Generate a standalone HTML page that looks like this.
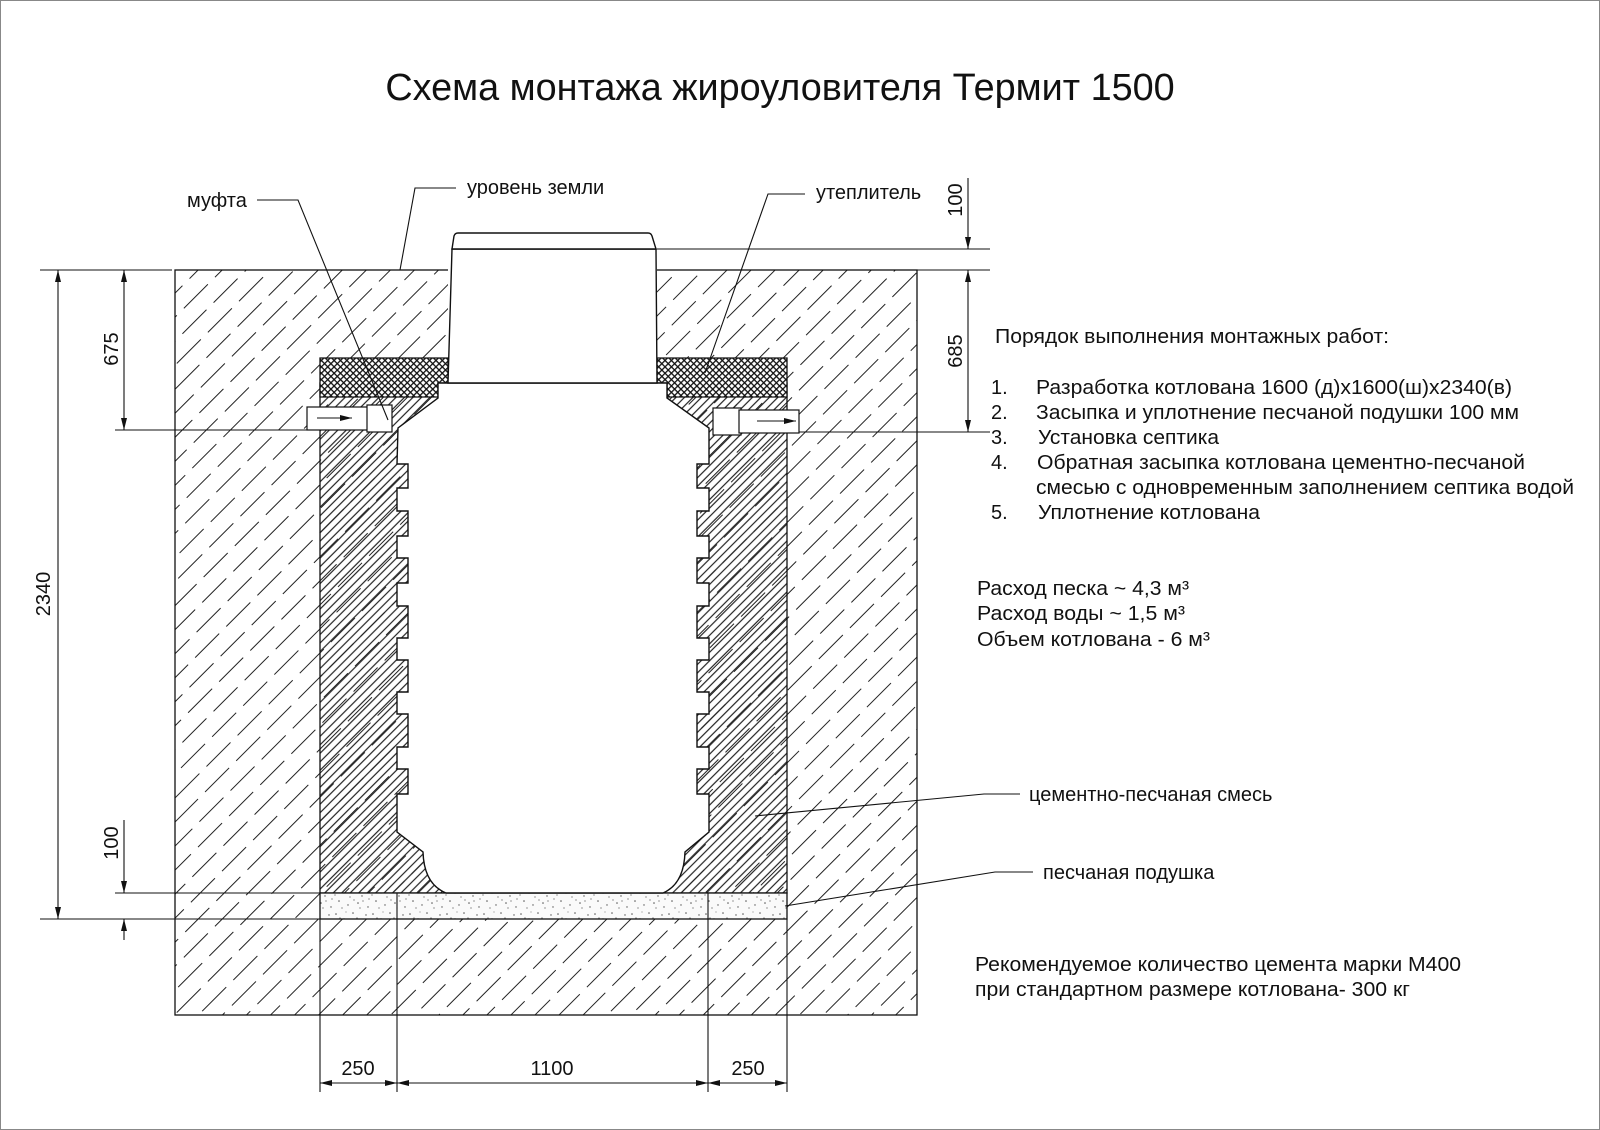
<!DOCTYPE html>
<html><head><meta charset="utf-8"><style>
html,body{margin:0;padding:0;background:#fff}
svg{display:block}
text{font-family:"Liberation Sans",Arial,sans-serif;fill:#111}
</style></head><body>
<svg width="1600" height="1130" viewBox="0 0 1600 1130" xmlns="http://www.w3.org/2000/svg">
<defs>
<pattern id="soil" patternUnits="userSpaceOnUse" width="44" height="34" patternTransform="rotate(-45)">
<line x1="0" y1="8" x2="44" y2="8" stroke="#222" stroke-width="1.1" stroke-dasharray="34 10"/>
<line x1="0" y1="25" x2="44" y2="25" stroke="#222" stroke-width="1.1" stroke-dasharray="34 10" stroke-dashoffset="19"/>
</pattern>
<pattern id="conc" patternUnits="userSpaceOnUse" width="6" height="6" patternTransform="rotate(-45)">
<line x1="0" y1="3" x2="6" y2="3" stroke="#222" stroke-width="1.2"/>
</pattern>
<pattern id="ins" patternUnits="userSpaceOnUse" width="4.5" height="4.5" patternTransform="rotate(45)">
<rect width="4.5" height="4.5" fill="#fff"/>
<line x1="0" y1="0.6" x2="4.5" y2="0.6" stroke="#111" stroke-width="1.4"/>
<line x1="0.6" y1="0" x2="0.6" y2="4.5" stroke="#111" stroke-width="1.4"/>
</pattern>
<pattern id="sand" patternUnits="userSpaceOnUse" width="37" height="26">
<rect width="37" height="26" fill="#fafafa"/>
<g fill="#555">
<circle cx="3" cy="4" r="0.8"/><circle cx="11" cy="9" r="0.7"/><circle cx="20" cy="3" r="0.8"/><circle cx="29" cy="12" r="0.7"/>
<circle cx="6" cy="17" r="0.8"/><circle cx="15" cy="21" r="0.7"/><circle cx="25" cy="19" r="0.8"/><circle cx="33" cy="5" r="0.7"/>
<circle cx="17" cy="13" r="0.6"/><circle cx="35" cy="23" r="0.7"/><circle cx="9" cy="24" r="0.6"/><circle cx="24" cy="8" r="0.6"/>
<circle cx="2" cy="11" r="0.6"/><circle cx="30" cy="17" r="0.6"/><circle cx="13" cy="2" r="0.5"/>
<circle cx="7" cy="8" r="0.6"/><circle cx="21" cy="16" r="0.6"/><circle cx="27" cy="24" r="0.6"/><circle cx="36" cy="15" r="0.6"/>
</g>
</pattern>
<marker id="ar" viewBox="0 0 12 6" refX="12" refY="3" markerWidth="12" markerHeight="6" orient="auto-start-reverse" markerUnits="userSpaceOnUse">
<path d="M0,0 L12,3 L0,6 Z" fill="#111"/>
</marker>
</defs>

<rect x="0.5" y="0.5" width="1599" height="1129" fill="none" stroke="#888" stroke-width="1"/>

<text x="780" y="100" font-size="37.8" text-anchor="middle">Схема монтажа жироуловителя Термит 1500</text>

<rect x="175" y="270" width="742" height="745" fill="url(#soil)" stroke="#111" stroke-width="1.3"/>
<rect x="448" y="249" width="209" height="134" fill="#fff"/>
<rect x="320" y="383" width="467" height="510" fill="url(#conc)" stroke="#111" stroke-width="1.3"/>
<path d="M320,358 L448,358 L448,383 L438,383 L438,397 L320,397 Z" fill="url(#ins)" stroke="#111" stroke-width="1.3"/>
<path d="M657,358 L787,358 L787,397 L667,397 L667,383 L657,383 Z" fill="url(#ins)" stroke="#111" stroke-width="1.3"/>
<rect x="320" y="893" width="467" height="26" fill="url(#sand)" stroke="#111" stroke-width="1.3"/>

<path d="M448,383 L438,383 L438,398 L398,428 L397,464 L408,464 L408,488 L397,488 L397,511 L408,511 L408,536 L397,536 L397,558 L408,558 L408,583 L397,583 L397,606 L408,606 L408,638 L397,638 L397,660 L408,660 L408,692 L397,692 L397,714 L408,714 L408,747 L397,747 L397,769 L408,769 L408,794 L397,794 L397,832 L423,852 Q424,884 446,893 L663,893 Q684,884 685,852 L709,832 L709,794 L697,794 L697,769 L709,769 L709,747 L697,747 L697,714 L709,714 L709,692 L697,692 L697,660 L709,660 L709,638 L697,638 L697,606 L709,606 L709,583 L697,583 L697,558 L709,558 L709,536 L697,536 L697,511 L709,511 L709,488 L697,488 L697,464 L709,464 L709,428 L667,398 L667,383 L657,383 Z" fill="#fff" stroke="#111" stroke-width="1.4"/>
<path d="M452,249 L448,383 L657,383 L656,249 Z" fill="#fff" stroke="#111" stroke-width="1.4"/>
<path d="M452,249 L454,236 Q455,233 458,233 L648,233 Q651,233 652,236 L656,249 Z" fill="#fff" stroke="#111" stroke-width="1.4"/>

<rect x="307" y="407" width="62" height="23" fill="#fff" stroke="#111" stroke-width="1.2"/>
<rect x="367" y="405" width="25" height="27" fill="#fff" stroke="#111" stroke-width="1.2"/>
<line x1="317" y1="418" x2="352" y2="418" stroke="#111" stroke-width="1" marker-end="url(#ar)"/>
<rect x="713" y="408" width="28" height="27" fill="#fff" stroke="#111" stroke-width="1.2"/>
<rect x="739" y="410" width="60" height="23" fill="#fff" stroke="#111" stroke-width="1.2"/>
<line x1="757" y1="421" x2="796" y2="421" stroke="#111" stroke-width="1" marker-end="url(#ar)"/>

<g stroke="#111" stroke-width="1.1" fill="none">
<line x1="320" y1="919" x2="320" y2="1092"/>
<line x1="397" y1="893" x2="397" y2="1092"/>
<line x1="708" y1="893" x2="708" y2="1092"/>
<line x1="787" y1="919" x2="787" y2="1092"/>
<line x1="40" y1="270" x2="172" y2="270"/>
<line x1="115" y1="430" x2="307" y2="430"/>
<line x1="799" y1="432" x2="990" y2="432"/>
<line x1="917" y1="270" x2="990" y2="270"/>
<line x1="657" y1="249" x2="990" y2="249"/>
<line x1="40" y1="919" x2="320" y2="919"/>
<line x1="115" y1="893" x2="320" y2="893"/>
<line x1="58" y1="270" x2="58" y2="919" marker-start="url(#ar)" marker-end="url(#ar)"/>
<line x1="124" y1="270" x2="124" y2="430" marker-start="url(#ar)" marker-end="url(#ar)"/>
<line x1="124" y1="820" x2="124" y2="893" marker-end="url(#ar)"/>
<line x1="124" y1="940" x2="124" y2="919" marker-end="url(#ar)"/>
<line x1="968" y1="178" x2="968" y2="249" marker-end="url(#ar)"/>
<line x1="968" y1="270" x2="968" y2="432" marker-start="url(#ar)" marker-end="url(#ar)"/>
<line x1="320" y1="1083" x2="397" y2="1083" marker-start="url(#ar)" marker-end="url(#ar)"/>
<line x1="397" y1="1083" x2="708" y2="1083" marker-start="url(#ar)" marker-end="url(#ar)"/>
<line x1="708" y1="1083" x2="787" y2="1083" marker-start="url(#ar)" marker-end="url(#ar)"/>
<polyline points="257,200 298,200 388,420"/>
<polyline points="456,188 415,188 400,270"/>
<polyline points="805,194 768,194 705,373"/>
<polyline points="1020,794 984,794 755,816"/>
<polyline points="1033,872 995,872 785,906"/>
</g>

<g font-size="20">
<text x="187" y="207">муфта</text>
<text x="467" y="194">уровень земли</text>
<text x="816" y="199">утеплитель</text>
<text x="1029" y="801">цементно-песчаная смесь</text>
<text x="1043" y="879">песчаная подушка</text>
<text x="358" y="1075" text-anchor="middle">250</text>
<text x="552" y="1075" text-anchor="middle">1100</text>
<text x="748" y="1075" text-anchor="middle">250</text>
<text transform="translate(50,594) rotate(-90)" text-anchor="middle">2340</text>
<text transform="translate(118,349) rotate(-90)" text-anchor="middle">675</text>
<text transform="translate(118,843) rotate(-90)" text-anchor="middle">100</text>
<text transform="translate(962,200) rotate(-90)" text-anchor="middle">100</text>
<text transform="translate(962,351) rotate(-90)" text-anchor="middle">685</text>
</g>

<g font-size="20">
<text x="995" y="343" textLength="394" lengthAdjust="spacingAndGlyphs">Порядок выполнения монтажных работ:</text>
<text x="991" y="394">1.</text><text x="1036" y="394" textLength="476" lengthAdjust="spacingAndGlyphs">Разработка котлована 1600 (д)х1600(ш)х2340(в)</text>
<text x="991" y="419">2.</text><text x="1036" y="419" textLength="483" lengthAdjust="spacingAndGlyphs">Засыпка и уплотнение песчаной подушки 100 мм</text>
<text x="991" y="444">3.</text><text x="1038" y="444" textLength="181" lengthAdjust="spacingAndGlyphs">Установка септика</text>
<text x="991" y="469">4.</text><text x="1037" y="469" textLength="488" lengthAdjust="spacingAndGlyphs">Обратная засыпка котлована цементно-песчаной</text>
<text x="1036" y="494" textLength="538" lengthAdjust="spacingAndGlyphs">смесью с одновременным заполнением септика водой</text>
<text x="991" y="519">5.</text><text x="1038" y="519" textLength="222" lengthAdjust="spacingAndGlyphs">Уплотнение котлована</text>
<text x="977" y="595" textLength="212" lengthAdjust="spacingAndGlyphs">Расход песка ~ 4,3 м³</text>
<text x="977" y="620" textLength="208" lengthAdjust="spacingAndGlyphs">Расход воды ~ 1,5 м³</text>
<text x="977" y="646" textLength="233" lengthAdjust="spacingAndGlyphs">Объем котлована - 6 м³</text>
<text x="975" y="971" textLength="486" lengthAdjust="spacingAndGlyphs">Рекомендуемое количество цемента марки М400</text>
<text x="975" y="996" textLength="435" lengthAdjust="spacingAndGlyphs">при стандартном размере котлована- 300 кг</text>
</g>
</svg>
</body></html>
